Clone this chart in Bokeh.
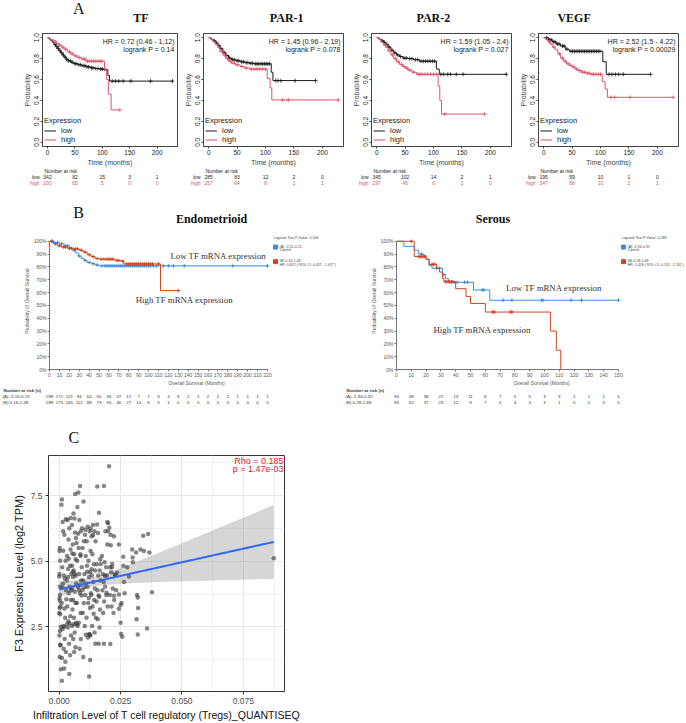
import numpy as np
from bokeh.plotting import figure
from bokeh.layouts import column, row
from bokeh.models import (Range1d, Label, Legend, LegendItem, FixedTicker,
                          NumeralTickFormatter)
from bokeh.core.properties import value
from bokeh.embed import file_html
from bokeh.resources import INLINE

# ---------------- Panel A: KM-plotter curves (low / high expression) ----------------
risk_times_a = [0, 50, 100, 150, 200]

tf_low_t = [0, 3, 6, 9, 12, 15, 18, 21, 24, 27, 30, 34, 38, 43, 48, 55, 62, 70, 78, 86, 95, 105, 110, 113]
tf_low_s = [1.0, .985, .97, .955, .935, .915, .895, .875, .855, .835, .815, .795, .778, .765, .752, .742, .732, .722, .712, .705, .70, .695, .64, .585]
tf_low_end = 228
tf_low_cens = [14, 17, 20, 23, 26, 29, 32, 35, 38, 42, 45, 50, 52, 57, 60, 65, 68, 72, 75, 80, 83, 88, 92, 97, 100, 104, 118, 124, 130, 138, 152, 188, 228]
tf_high_t = [0, 4, 8, 12, 16, 20, 25, 30, 36, 42, 48, 55, 62, 70, 104, 108, 111, 116]
tf_high_s = [1.0, .985, .975, .96, .945, .93, .91, .89, .865, .845, .825, .81, .795, .775, .69, .60, .46, .31]
tf_high_end = 132
tf_high_cens = [10, 15, 22, 28, 33, 40, 45, 52, 58, 65, 68, 73, 76, 80, 84, 88, 92, 96, 99, 132]
tf_risk_low = [342, 82, 15, 3, 1]
tf_risk_high = [200, 65, 5, 0, 0]

par1_low_t = [0, 4, 8, 12, 16, 20, 25, 30, 35, 40, 47, 55, 63, 72, 80, 110, 113]
par1_low_s = [1.0, .985, .97, .95, .925, .895, .86, .83, .805, .79, .78, .77, .762, .755, .75, .67, .59]
par1_low_end = 188
par1_low_cens = [10, 14, 18, 22, 27, 32, 37, 42, 45, 50, 53, 58, 61, 66, 69, 74, 77, 82, 85, 88, 92, 95, 98, 101, 104, 107, 118, 122, 127, 152, 188]
par1_high_t = [0, 4, 8, 12, 16, 20, 25, 30, 35, 40, 47, 55, 63, 72, 103, 108, 111]
par1_high_s = [1.0, .98, .96, .935, .905, .87, .835, .80, .775, .755, .74, .725, .71, .70, .61, .52, .405]
par1_high_end = 228
par1_high_cens = [15, 22, 28, 33, 38, 44, 50, 58, 66, 75, 80, 85, 90, 95, 100, 130, 140, 228]
par1_risk_low = [285, 83, 12, 2, 0]
par1_risk_high = [257, 64, 8, 1, 1]

par2_low_t = [0, 4, 8, 12, 16, 20, 25, 30, 35, 40, 46, 55, 65, 75, 105, 110]
par2_low_s = [1.0, .985, .97, .955, .935, .91, .88, .855, .835, .82, .805, .80, .79, .775, .70, .65]
par2_low_end = 228
par2_low_cens = [10, 14, 18, 22, 27, 32, 37, 42, 48, 52, 58, 62, 68, 72, 78, 82, 86, 90, 94, 98, 102, 113, 118, 125, 130, 140, 152, 228]
par2_high_t = [0, 4, 8, 12, 16, 20, 25, 30, 35, 40, 45, 50, 55, 62, 70, 108, 111, 114]
par2_high_s = [1.0, .98, .955, .93, .905, .875, .835, .80, .77, .745, .725, .71, .69, .67, .65, .54, .40, .27]
par2_high_end = 190
par2_high_cens = [15, 22, 28, 33, 38, 44, 48, 53, 58, 65, 73, 76, 80, 85, 90, 95, 100, 105, 120, 190]
par2_risk_low = [345, 102, 14, 2, 1]
par2_risk_high = [197, 45, 6, 1, 0]

vegf_low_t = [0, 8, 15, 22, 30, 38, 45, 104, 110]
vegf_low_s = [1.0, .98, .96, .94, .92, .89, .87, .77, .65]
vegf_low_end = 188
vegf_low_cens = [5, 10, 13, 17, 20, 24, 27, 33, 36, 41, 48, 51, 54, 57, 60, 63, 66, 69, 72, 75, 78, 81, 84, 87, 90, 93, 96, 99, 115, 120, 126, 132, 140, 188]
vegf_high_t = [0, 4, 8, 12, 16, 20, 25, 30, 35, 40, 45, 50, 55, 60, 67, 75, 82, 103, 108, 112]
vegf_high_s = [1.0, .98, .96, .935, .91, .885, .845, .805, .775, .75, .735, .72, .70, .685, .67, .66, .65, .58, .51, .43]
vegf_high_end = 228
vegf_high_cens = [10, 18, 28, 33, 38, 43, 48, 53, 58, 63, 68, 72, 77, 80, 85, 88, 92, 96, 100, 118, 125, 152, 228]
vegf_risk_low = [195, 59, 10, 1, 0]
vegf_risk_high = [347, 88, 10, 2, 1]

# ---------------- Panel B: cBioPortal curves (group A low, group B high) ----------------
endo_a_t = [0, 5, 10, 15, 20, 23, 26, 29, 32, 35, 38, 42, 46, 50]
endo_a_s = [100, 99, 98, 96.5, 95, 93, 91, 88.5, 86.5, 85, 83.5, 82.5, 81.5, 80.8]
endo_a_end = 220
endo_a_cens = [3, 8, 12, 18, 25, 30, 36, 40, 44, 48, 53, 56, 58, 60, 62, 64, 66, 68, 70, 72, 74, 76, 78, 80, 82, 84, 86, 88, 90, 92, 94, 96, 98, 100, 102, 105, 108, 115, 120, 125, 136, 185, 220]
endo_b_t = [0, 4, 8, 12, 18, 24, 30, 34, 38, 42, 46, 50, 66, 72, 75, 112]
endo_b_s = [100, 98, 96.5, 95.5, 94.5, 94, 93, 91.5, 89.5, 88, 86.5, 86, 85, 84.5, 82.3, 61.5]
endo_b_end = 130
endo_b_cens = [2, 6, 10, 14, 16, 20, 22, 26, 28, 32, 36, 40, 44, 48, 52, 55, 58, 60, 62, 64, 68, 70, 74, 78, 80, 82, 84, 86, 88, 90, 92, 94, 96, 98, 100, 102, 104, 110, 130]
endo_risk_a = [198, 171, 121, 94, 64, 50, 35, 27, 17, 7, 7, 5, 4, 3, 2, 2, 2, 2, 2, 1, 1, 1, 1]
endo_risk_b = [198, 175, 145, 112, 88, 73, 55, 40, 27, 14, 6, 5, 1, 0, 0, 0, 0, 0, 0, 0, 0, 0, 0]
endo_ticks = list(range(0, 221, 10))

ser_a_t = [0, 5, 12, 15, 18, 20, 22, 24, 31, 33, 35, 52, 63]
ser_a_s = [100, 96, 93, 90, 89, 86, 81, 79, 74, 71, 68, 62, 54]
ser_a_end = 150
ser_a_cens = [17, 27, 29, 32, 37, 39, 41, 46, 48, 58, 59, 72, 78, 98, 99, 118, 125, 150]
ser_b_t = [0, 12, 20, 22, 27, 29, 31, 32, 40, 47, 50, 60, 104, 108, 111]
ser_b_s = [100, 88, 86, 82, 79, 76, 71, 68.5, 63, 57, 51.5, 44.8, 30, 15, 0]
ser_b_end = 111
ser_b_cens = [10, 15, 16, 17, 18, 19, 24, 25, 26, 33, 34, 35, 36, 37, 38, 65, 66, 77, 78]
ser_risk_a = [94, 48, 38, 22, 13, 11, 8, 7, 5, 5, 3, 3, 2, 1, 1, 0]
ser_risk_b = [93, 52, 37, 25, 12, 9, 7, 5, 4, 3, 3, 1, 0, 0, 0, 0]
ser_ticks = list(range(0, 151, 10))

# ---------------- Panel C: Tregs infiltration vs F3 expression ----------------
treg = [
    0.0002, 0.0001, 0.0004, 0.0000, 0.0003, 0.0001, 0.0005, 0.0002, 0.0000, 0.0006, 0.0003, 0.0001, 0.0004, 0.0002, 0.0005, 0.0003, 0.0001, 0.0007, 0.0004, 0.0002,
    0.0011, 0.0009, 0.0016, 0.0021, 0.0014, 0.0026, 0.0012, 0.0019, 0.0023, 0.0015, 0.0028, 0.0010, 0.0024, 0.0017, 0.0013, 0.0022, 0.0018, 0.0011, 0.0020, 0.0011, 0.0025, 0.0016, 0.0027, 0.0013, 0.0029, 0.0021, 0.0019, 0.0027,
    0.0034, 0.0041, 0.0038, 0.0046, 0.0032, 0.0044, 0.0036, 0.0049, 0.0031, 0.0043, 0.0039, 0.0047, 0.0033, 0.0045, 0.0037, 0.0042, 0.0035, 0.0048, 0.0040, 0.0044, 0.0041, 0.0046, 0.0036, 0.0048, 0.0032, 0.0039,
    0.0065, 0.0058, 0.0062, 0.0052, 0.0068, 0.0055, 0.0061, 0.0067, 0.0053, 0.0059, 0.0064, 0.0056, 0.0069, 0.0051, 0.0063, 0.0057, 0.0066, 0.0054, 0.0060, 0.0068, 0.0052, 0.0063, 0.0057, 0.0066, 0.0061, 0.0055, 0.0067, 0.0059, 0.0064, 0.0053,
    0.0078, 0.0085, 0.0074, 0.0082, 0.0088, 0.0071, 0.0079, 0.0086, 0.0073, 0.0081, 0.0089, 0.0076, 0.0084, 0.0072, 0.0087, 0.0080, 0.0075, 0.0083, 0.0088, 0.0077, 0.0085, 0.0072, 0.0081, 0.0087,
    0.0099, 0.0093, 0.0105, 0.0101, 0.0095, 0.0108, 0.0092, 0.0103, 0.0097, 0.0109, 0.0094, 0.0106, 0.0100, 0.0096, 0.0104, 0.0098, 0.0107, 0.0102, 0.0091, 0.0108,
    0.0116, 0.0124, 0.0112, 0.0128, 0.0119, 0.0113, 0.0126, 0.0121, 0.0115, 0.0129, 0.0118, 0.0125, 0.0111, 0.0122, 0.0127, 0.0117, 0.0122, 0.0126, 0.0114, 0.0128, 0.0120, 0.0124,
    0.0137, 0.0143, 0.0132, 0.0148, 0.0135, 0.0141, 0.0146, 0.0133, 0.0139, 0.0145, 0.0131, 0.0142, 0.0136, 0.0149, 0.0134, 0.0144, 0.0147, 0.0138, 0.0132, 0.0140,
    0.0155, 0.0162, 0.0158, 0.0167, 0.0153, 0.0165, 0.0159, 0.0168, 0.0156, 0.0163, 0.0152, 0.0166, 0.0157, 0.0164, 0.0161, 0.0154, 0.0169, 0.0160,
    0.0182, 0.0196, 0.0199, 0.0188, 0.0196, 0.0174, 0.0185, 0.0191, 0.0178, 0.0194, 0.0181, 0.0187, 0.0176, 0.0192, 0.0183, 0.0197, 0.0179, 0.0182, 0.0199, 0.0204, 0.0193, 0.0186,
    0.0203, 0.0209, 0.0223, 0.0210, 0.0207, 0.0215, 0.0212, 0.0228, 0.0218, 0.0232, 0.0206, 0.0224, 0.0213, 0.0221, 0.0243, 0.0236, 0.0243, 0.0223, 0.0250, 0.0243, 0.0254, 0.0250, 0.0208, 0.0227, 0.0216,
    0.0261, 0.0297, 0.0313, 0.0331, 0.0345, 0.0342, 0.0362, 0.0367, 0.0299, 0.0300, 0.0277, 0.0261, 0.0284, 0.0264, 0.0266, 0.0317, 0.0320, 0.0321, 0.0315, 0.0358, 0.0320, 0.0252, 0.0257, 0.0378, 0.0874,
]
f3 = [
    5.51, 5.39, 5.02, 4.42, 4.03, 3.59, 3.28, 3.22, 3.03, 2.51, 2.35, 2.17, 1.82, 1.36, 1.80, 3.72, 4.52, 0.89, 2.98, 3.50,
    7.35, 7.15, 6.14, 6.01, 6.50, 5.02, 4.77, 4.46, 4.34, 4.15, 3.90, 3.41, 2.85, 2.54, 2.41, 2.04, 1.67, 1.32, 0.92, 0.45, 1.17, 5.40, 6.60, 4.00, 3.55, 3.20, 2.50, 1.55,
    6.57, 6.26, 5.83, 5.45, 5.20, 4.83, 4.71, 4.52, 4.27, 4.03, 3.78, 3.53, 3.28, 2.91, 2.72, 2.64, 2.48, 2.17, 1.86, 1.42, 0.71, 6.65, 4.40, 3.90, 2.60, 5.10,
    7.56, 6.82, 6.63, 6.38, 5.89, 5.64, 5.27, 5.08, 4.83, 4.65, 4.52, 4.40, 4.15, 3.96, 3.84, 3.53, 3.41, 3.16, 2.85, 2.66, 2.54, 2.29, 2.04, 1.73, 1.55, 4.60, 4.45, 2.60, 6.10, 5.30,
    7.62, 7.87, 7.07, 6.57, 6.14, 5.70, 5.51, 5.27, 5.02, 4.52, 4.27, 4.03, 3.78, 3.41, 3.03, 2.66, 2.54, 1.67, 2.04, 6.05, 4.10, 2.60, 3.90, 5.20,
    7.28, 6.26, 6.01, 5.76, 5.51, 5.20, 4.77, 4.52, 4.27, 4.15, 3.90, 3.72, 3.41, 3.03, 2.54, 1.36, 6.20, 4.00, 3.70, 2.20,
    6.32, 6.14, 5.76, 5.39, 5.02, 4.83, 4.58, 4.40, 4.03, 3.78, 3.41, 3.22, 2.85, 2.23, 2.17, 2.10, 0.61, 1.24, 4.60, 6.25, 3.60, 2.20,
    6.38, 6.14, 5.95, 5.76, 5.27, 4.89, 4.65, 4.46, 4.21, 3.96, 3.72, 3.53, 3.28, 2.85, 2.54, 2.29, 1.86, 6.00, 4.70, 3.00,
    7.85, 6.85, 6.08, 5.08, 4.89, 4.65, 4.46, 4.27, 3.90, 3.65, 3.47, 3.16, 2.79, 2.48, 1.86, 6.40, 4.90, 3.70,
    7.87, 6.50, 6.45, 6.14, 5.64, 5.20, 4.96, 4.77, 4.52, 4.46, 4.21, 4.03, 3.90, 3.72, 3.47, 3.28, 3.03, 1.86, 6.14, 6.28, 3.80, 4.45,
    8.62, 6.01, 5.95, 5.61, 4.77, 4.77, 4.58, 4.46, 3.96, 3.90, 3.72, 3.53, 3.28, 3.03, 5.64, 4.56, 3.74, 3.69, 3.34, 3.19, 3.41, 2.66, 1.85, 4.50, 4.90,
    5.17, 5.45, 5.33, 5.45, 5.39, 5.97, 6.04, 5.33, 5.14, 4.96, 4.77, 4.83, 4.42, 4.21, 3.78, 3.72, 3.62, 3.22, 2.79, 2.44, 2.21, 2.23, 2.13, 3.82, 5.12,
]
rho_text = ["Rho = 0.185", "p = 1.47e-03"]

LOW_COL, HIGH_COL = "#1a1a1a", "#DF536B"
BLUE, RED = "#3b8fd9", "#d2451e"
SANS, SERIF = "Liberation Sans", "Liberation Serif"


def step_value(times, surv, t):
    i = int(np.searchsorted(times, t, side="right")) - 1
    return surv[i]


def add_text(p, xs, ys, texts, size, color="#222222", font=SANS, align="left",
             baseline="middle", style="normal"):
    p.text(x=xs, y=ys, text=texts, text_font=value(font),
           text_font_size=value(f"{size}px"), text_color=color,
           text_align=align, text_baseline=baseline, text_font_style=style)


def strip(width, height, x0, x1):
    """Borderless figure used for text rows; y runs downward in pixels."""
    s = figure(width=width, height=height, x_range=Range1d(x0, x1),
               y_range=Range1d(height, 0), x_axis_type=None, y_axis_type=None,
               min_border_left=0, min_border_right=0, min_border_top=0,
               min_border_bottom=0, outline_line_color=None,
               output_backend="svg", toolbar_location=None)
    s.grid.visible = False
    return s


def style_axes(p, tick_size, label_size, color, tick_out=2):
    for ax in (p.xaxis, p.yaxis):
        ax.axis_label_text_font = SANS
        ax.axis_label_text_font_size = f"{label_size}px"
        ax.axis_label_text_font_style = "normal"
        ax.axis_label_standoff = 1
        ax.major_label_text_font = SANS
        ax.major_label_text_font_size = f"{tick_size}px"
        ax.major_label_standoff = 1
        ax.major_tick_out = tick_out
        ax.major_tick_in = 0
        ax.minor_tick_line_color = None
        ax.axis_line_color = color
        ax.major_tick_line_color = color


# ---------------- Panel A ----------------
A_H, A_TOP, A_BOT = 142, 7, 21
A_XR = (-9.12, 237.12)


def km_panel(width, left, right, low, high, hr, pval):
    fw, fh = width - left - right, A_H - A_TOP - A_BOT
    p = figure(width=width, height=A_H,
               x_range=Range1d(*A_XR), y_range=Range1d(-0.04, 1.04),
               min_border_left=left, min_border_right=right,
               min_border_top=A_TOP, min_border_bottom=A_BOT,
               output_backend="svg", toolbar_location=None)
    p.grid.visible = False
    p.outline_line_color = "#444444"

    renderers = []
    for (t, s, end, cens), col in ((low, LOW_COL), (high, HIGH_COL)):
        r = p.step(t + [end], s + [s[-1]], mode="after", line_color=col, line_width=1)
        cy = [step_value(t, s, c) for c in cens]
        p.scatter(cens, cy, marker="cross", size=4, line_color=col, line_width=0.8)
        renderers.append(r)

    p.xaxis.ticker = FixedTicker(ticks=risk_times_a)
    p.yaxis.ticker = FixedTicker(ticks=[0.0, 0.2, 0.4, 0.6, 0.8, 1.0])
    p.yaxis.formatter = NumeralTickFormatter(format="0.0")
    p.yaxis.major_label_orientation = "vertical"
    p.xaxis.axis_label = "Time (months)"
    p.yaxis.axis_label = "Probability"
    style_axes(p, 6.5, 7, "#444444")
    p.axis.major_label_text_color = "#222222"

    legend = Legend(items=[LegendItem(label="low", renderers=[renderers[0]]),
                           LegendItem(label="high", renderers=[renderers[1]])],
                    location="bottom_left", title="Expression")
    legend.title_text_font = SANS
    legend.title_text_font_size = "7.5px"
    legend.title_text_font_style = "normal"
    legend.title_text_color = "#222222"
    legend.label_text_font = SANS
    legend.label_text_font_size = "7.5px"
    legend.label_text_color = "#222222"
    legend.glyph_height = 7
    legend.glyph_width = 12
    legend.label_height = 7
    legend.label_standoff = 5
    legend.spacing = 0
    legend.padding = 2
    legend.margin = 2
    legend.title_standoff = 1
    legend.border_line_color = None
    legend.background_fill_alpha = 0
    p.add_layout(legend)

    k = (A_XR[1] - A_XR[0]) / fw
    ky = 1.08 / fh
    for line, dy in ((hr, 8), (pval, 16)):
        p.add_layout(Label(x=A_XR[1] - 3 * k, y=1.04 - dy * ky, text=line,
                           text_font=SANS, text_font_size="7px", text_color="#222222",
                           text_align="right", text_baseline="middle"))
    return p


def km_risk(width, left, right, r_low, r_high):
    fw = width - left - right
    k = (A_XR[1] - A_XR[0]) / fw
    s = strip(width, 27, A_XR[0] - left * k, A_XR[1] + right * k)
    add_text(s, [A_XR[0] + 2 * k], [2.7], ["Number at risk"], 5)
    add_text(s, [A_XR[0] - 3 * k], [8], ["low"], 5, align="right")
    add_text(s, [A_XR[0] - 3 * k], [14], ["high"], 5, color=HIGH_COL, align="right")
    add_text(s, risk_times_a, [8] * 5, [str(v) for v in r_low], 5, align="center")
    add_text(s, risk_times_a, [14] * 5, [str(v) for v in r_high], 5,
             color=HIGH_COL, align="center")
    return s


a_specs = [
    (179, 42, 2, (tf_low_t, tf_low_s, tf_low_end, tf_low_cens),
     (tf_high_t, tf_high_s, tf_high_end, tf_high_cens),
     "HR = 0.72 (0.46 - 1.12)", "logrank P = 0.14", tf_risk_low, tf_risk_high),
    (168, 24, 4, (par1_low_t, par1_low_s, par1_low_end, par1_low_cens),
     (par1_high_t, par1_high_s, par1_high_end, par1_high_cens),
     "HR = 1.45 (0.96 - 2.19)", "logrank P = 0.078", par1_risk_low, par1_risk_high),
    (168, 24, 4, (par2_low_t, par2_low_s, par2_low_end, par2_low_cens),
     (par2_high_t, par2_high_s, par2_high_end, par2_high_cens),
     "HR = 1.59 (1.05 - 2.4)", "logrank P = 0.027", par2_risk_low, par2_risk_high),
    (171, 23, 8, (vegf_low_t, vegf_low_s, vegf_low_end, vegf_low_cens),
     (vegf_high_t, vegf_high_s, vegf_high_end, vegf_high_cens),
     "HR = 2.52 (1.5 - 4.22)", "logrank P = 0.00029", vegf_risk_low, vegf_risk_high),
]
a_plots = [km_panel(w, l, r, lo, hi, hr, pv) for (w, l, r, lo, hi, hr, pv, _, _) in a_specs]
a_risks = [km_risk(w, l, r, rl, rh) for (w, l, r, _, _, _, _, rl, rh) in a_specs]

head_a = strip(686, 26, 0, 686)
add_text(head_a, [35], [8], ["A"], 16, color="#111111", font=SERIF, align="center")
add_text(head_a, [107, 276, 446, 609], [17] * 4, ["TF", "PAR-1", "PAR-2", "VEGF"], 12,
         color="#111111", font=SERIF, align="center", style="bold")

# ---------------- Panel B ----------------
B_H, B_BOT, B_PLOT_H = 156, 15, 132
B_FH = B_H - B_BOT


def cbio_panel(width, left, xmax, plot_w, ticks, grp_a, grp_b, legend_lines, notes, leg_dx):
    fw = width - left
    kx = xmax / plot_w            # months per pixel
    ky = 100.0 / B_PLOT_H         # percent per pixel
    x_end, y_end = fw * kx, B_FH * ky
    p = figure(width=width, height=B_H,
               x_range=Range1d(0, x_end), y_range=Range1d(0, y_end),
               min_border_left=left, min_border_right=0,
               min_border_top=0, min_border_bottom=B_BOT,
               output_backend="svg", toolbar_location=None)
    p.grid.visible = False
    p.outline_line_color = None

    for (t, s, end, cens), col in ((grp_a, BLUE), (grp_b, RED)):
        p.step(t + [end], s + [s[-1]], mode="after", line_color=col, line_width=1)
        cy = [step_value(t, s, c) for c in cens]
        p.scatter(cens, cy, marker="cross", size=3.5, line_color=col, line_width=1)

    p.xaxis.bounds = (0, xmax)
    p.yaxis.bounds = (0, 100)
    p.xaxis.ticker = FixedTicker(ticks=ticks)
    p.yaxis.ticker = FixedTicker(ticks=list(range(0, 101, 10)))
    p.yaxis.major_label_overrides = {v: f"{v}%" for v in range(0, 101, 10)}
    p.xaxis.axis_label = "Overall Survival (Months)"
    p.yaxis.axis_label = "Probability of Overall Survival"
    style_axes(p, 5, 5, "#777777")
    p.axis.major_label_text_color = "#555555"
    p.axis.axis_label_text_color = "#555555"
    p.xaxis.axis_label_standoff = 0

    # group legend to the right of the curves
    lx = (plot_w + leg_dx) * kx

    def yy(dy):  # pixels below the top of the frame -> percent
        return y_end - dy * ky

    add_text(p, [lx], [yy(6)], [legend_lines[0]], 3.6, color="#444444")
    p.scatter([lx + 2 * kx, lx + 2 * kx], [yy(15), yy(30)], marker="square", size=4,
              fill_color=[BLUE, RED], line_color=[BLUE, RED])
    add_text(p, [lx + 6 * kx] * 4, [yy(14.5), yy(18.5), yy(29.5), yy(33.5)],
             [legend_lines[1], "Control", legend_lines[2], legend_lines[3]], 3.6,
             color="#444444")

    # curve annotations
    for txt, tx, ty in notes:
        add_text(p, [tx], [ty], [txt], 8.8, color="#333333", font=SERIF)
    return p, kx


def cbio_risk(width, left, kx, fw, ticks, risk_a, risk_b, row_labels):
    s = strip(width, 22, -left * kx, fw * kx)
    x0 = -left * kx
    add_text(s, [x0 + 3 * kx], [2.4], ["Number at risk (n)"], 4.4, color="#333333", style="bold")
    add_text(s, [x0 + 2 * kx] * 2, [8, 14], row_labels, 4.4, color="#333333")
    add_text(s, ticks, [8] * len(ticks), [str(v) for v in risk_a], 4.4,
             color="#333333", align="center")
    add_text(s, ticks, [14] * len(ticks), [str(v) for v in risk_b], 4.4,
             color="#333333", align="center")
    return s


b1, kx1 = cbio_panel(343, 49, 220, 218, endo_ticks,
                     (endo_a_t, endo_a_s, endo_a_end, endo_a_cens),
                     (endo_b_t, endo_b_s, endo_b_end, endo_b_cens),
                     ["Logrank Test P-Value: 0.509", "(A) -3.15-0.15", "(B) 0.16-2.48",
                      "HR: 0.822 ( 95% CI: 0.457 - 1.477 )"],
                     [("Low TF mRNA expression", 122, 88.6),
                      ("High TF mRNA expression", 87, 53.8)], leg_dx=6)
b2, kx2 = cbio_panel(343, 53, 150, 222, ser_ticks,
                     (ser_a_t, ser_a_s, ser_a_end, ser_a_cens),
                     (ser_b_t, ser_b_s, ser_b_end, ser_b_cens),
                     ["Logrank Test P-Value: 0.288", "(A) -1.94-0.32", "(B) 0.28-2.68",
                      "HR: 1.426 ( 95% CI: 0.742 - 2.742 )"],
                     [("Low TF mRNA expression", 74, 63.6),
                      ("High TF mRNA expression", 25, 31)], leg_dx=3)
br1 = cbio_risk(343, 49, kx1, 343 - 49, endo_ticks, endo_risk_a, endo_risk_b,
                ["(A) -3.15-0.15", "(B) 0.16-2.48"])
br2 = cbio_risk(343, 53, kx2, 343 - 53, ser_ticks, ser_risk_a, ser_risk_b,
                ["(A) -1.94-0.32", "(B) 0.28-2.68"])

head_b = strip(686, 37, 0, 686)
add_text(head_b, [35], [16.5], ["B"], 16, color="#111111", font=SERIF, align="center")
add_text(head_b, [189, 515], [23.5, 23.5], ["Endometrioid", "Serous"], 12,
         color="#111111", font=SERIF, align="center", style="bold")

# ---------------- Panel C ----------------
x = np.array(treg)
y = np.array(f3)
pad_x = 0.05 * (x.max() - x.min())
pad_y = 0.05 * (y.max() - y.min())
c_left, c_right, c_top, c_bottom, c_w, c_h = 48, 46, 5, 28, 330, 273
c_fw, c_fh = c_w - c_left - c_right, c_h - c_top - c_bottom
cx0, cx1 = x.min() - pad_x, x.max() + pad_x
cy0, cy1 = y.min() - pad_y, y.max() + pad_y
pc = figure(width=c_w, height=c_h, x_range=Range1d(cx0, cx1), y_range=Range1d(cy0, cy1),
            min_border_left=c_left, min_border_right=c_right,
            min_border_top=c_top, min_border_bottom=c_bottom,
            output_backend="svg", toolbar_location=None)
pc.outline_line_color = "#333333"
pc.outline_line_width = 1
pc.xaxis.ticker = FixedTicker(ticks=[0.0, 0.025, 0.05, 0.075],
                              minor_ticks=[0.0125, 0.0375, 0.0625, 0.0875])
pc.yaxis.ticker = FixedTicker(ticks=[2.5, 5.0, 7.5], minor_ticks=[1.25, 3.75, 6.25, 8.75])
pc.xaxis.formatter = NumeralTickFormatter(format="0.000")
pc.yaxis.formatter = NumeralTickFormatter(format="0.0")
pc.grid.grid_line_color = "#e6e6e6"
pc.grid.minor_grid_line_color = "#f2f2f2"
pc.xaxis.axis_label = "Infiltration Level of T cell regulatory (Tregs)_QUANTISEQ"
pc.yaxis.axis_label = "F3 Expression Level (log2 TPM)"
style_axes(pc, 8.5, 11, "#333333", tick_out=3)
pc.axis.axis_line_color = None
pc.axis.major_label_text_color = "#4d4d4d"
pc.axis.major_label_standoff = 2
pc.axis.axis_label_text_color = "#111111"
pc.xaxis.axis_label_text_font_size = "10.5px"
pc.xaxis.axis_label_standoff = 2
pc.yaxis.axis_label_standoff = 3

# linear fit with 95% confidence band
n = len(x)
slope, intercept = np.polyfit(x, y, 1)
xs = np.linspace(x.min(), x.max(), 80)
fit = intercept + slope * xs
resid = y - (intercept + slope * x)
s_err = np.sqrt(np.sum(resid ** 2) / (n - 2))
sxx = np.sum((x - x.mean()) ** 2)
half = 1.969 * s_err * np.sqrt(1.0 / n + (xs - x.mean()) ** 2 / sxx)
pc.varea(x=xs, y1=fit - half, y2=fit + half, fill_color="#999999", fill_alpha=0.4)
pc.scatter(x, y, size=4.5, fill_color="#333333", fill_alpha=0.6, line_color=None)
pc.line(xs, fit, line_color="#3366FF", line_width=2)

kcx, kcy = (cx1 - cx0) / c_fw, (cy1 - cy0) / c_fh
for line, dy in ((rho_text[0], 6), (rho_text[1], 13.5)):
    pc.add_layout(Label(x=cx1 - 1 * kcx, y=cy1 - dy * kcy, text=line, text_font=SANS,
                        text_font_size="9px", text_color="#E0202A",
                        text_align="right", text_baseline="middle"))

head_c = strip(330, 40, 0, 330)
add_text(head_c, [35.5], [26.5], ["C"], 16, color="#111111", font=SERIF, align="center")

layout = column(head_a, row(*a_plots), row(*a_risks),
                head_b, row(b1, b2), row(br1, br2),
                head_c, pc)
open("out.html", "w").write(file_html(layout, INLINE))
